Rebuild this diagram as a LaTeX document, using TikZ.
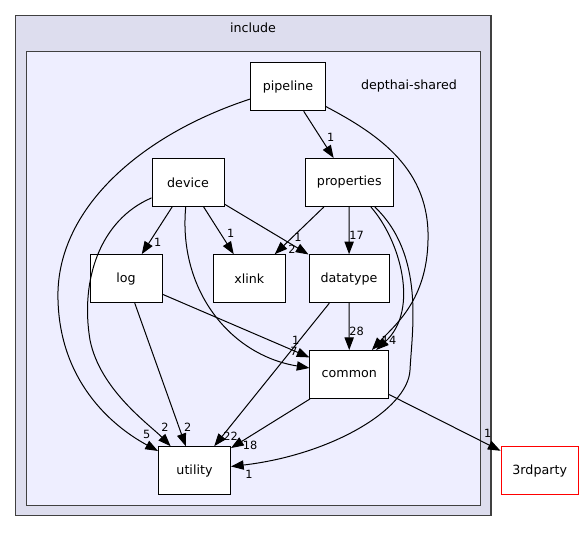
\documentclass[tikz,border=0pt]{standalone}
\usepackage{fontspec}
\setmainfont{DejaVu Sans}
\usetikzlibrary{arrows.meta}
\definecolor{outerfill}{HTML}{DDDDEE}
\definecolor{innerfill}{HTML}{EEEEFF}
\definecolor{clusterline}{HTML}{404040}
\begin{document}
\begin{tikzpicture}[x=0.75pt, y=-0.75pt,
  dirbox/.style={draw=black, fill=white, line width=0.75pt, minimum height=36pt, inner sep=0pt, font=\fontsize{9.5}{11}\selectfont},
  extbox/.style={dirbox, draw=red},
  dep/.style={line width=0.75pt, -{Triangle[length=9.5pt, width=7pt]}},
  cnt/.style={font=\fontsize{8.5}{10}\selectfont, inner sep=0pt}]
\useasboundingbox (0,0) rectangle (584,532);
% clusters
\filldraw[fill=outerfill, draw=clusterline, line width=1.1pt] (15.7,15.7) rectangle (491,515.7);
\filldraw[fill=innerfill, draw=clusterline, line width=1.1pt] (26.7,51.7) rectangle (480.3,505.3);
\node[font=\fontsize{9.5}{11}\selectfont] (include) at (253,28) {include};
\node[font=\fontsize{9.5}{11}\selectfont] (shared) at (409,86) {depthai-shared};
% directories
\node[dirbox, minimum width=56pt] (pipeline) at (288,86.7) {pipeline};
\node[dirbox, minimum width=54pt] (device) at (188,182.3) {device};
\node[dirbox, minimum width=66pt] (properties) at (349.3,182.5) {properties};
\node[dirbox, minimum width=54pt] (log) at (126,278.6) {log};
\node[dirbox, minimum width=54pt] (xlink) at (249.3,278.7) {xlink};
\node[dirbox, minimum width=60pt] (datatype) at (349,278.7) {datatype};
\node[dirbox, minimum width=59pt] (common) at (349.3,374.5) {common};
\node[dirbox, minimum width=54pt] (utility) at (194.5,470.7) {utility};
\node[extbox, minimum width=58pt] (thirdparty) at (539.7,470.5) {3rdparty};
% dependencies
\draw[dep] (pipeline) -- (properties);
\draw[dep] (pipeline) .. controls (140,135) and (55,210) .. (58,300) .. controls (60,380) and (110,425) .. (utility);
\draw[dep] (pipeline) .. controls (380,135) and (430,170) .. (428,240) .. controls (427,300) and (395,325) .. (common);
\draw[dep] (properties) -- (xlink);
\draw[dep] (properties) -- (datatype);
\draw[dep] (properties) .. controls (400,240) and (420,310) .. (common);
\draw[dep] (properties) .. controls (425,255) and (412,330) .. (410,370) .. controls (408,410) and (330,455) .. (utility);
\draw[dep] (device) -- (log);
\draw[dep] (device) -- (xlink);
\draw[dep] (device) -- (datatype);
\draw[dep] (device) .. controls (178,290) and (230,355) .. (common);
\draw[dep] (device) .. controls (100,220) and (80,280) .. (90,340) .. controls (100,390) and (150,425) .. (utility);
\draw[dep] (log) -- (common);
\draw[dep] (log) -- (utility);
\draw[dep] (datatype) -- (common);
\draw[dep] (datatype) -- (utility);
\draw[dep] (common) -- (utility);
\draw[dep] (common) -- (thirdparty);
% counts
\node[cnt] (n1) at (330.7,137.7) {1};
\node[cnt] (n2) at (146.7,434.7) {5};
\node[cnt] (n3) at (392.7,340.7) {4};
\node[cnt] (n4) at (385.3,340.7) {1};
\node[cnt] (n5) at (292,249) {2};
\node[cnt] (n6) at (356.7,235.7) {17};
\node[cnt] (n7) at (249,474) {1};
\node[cnt] (n8) at (157.7,242.7) {1};
\node[cnt] (n9) at (230.7,233.3) {1};
\node[cnt] (n10) at (298,237) {1};
\node[cnt] (n11) at (294,351) {7};
\node[cnt] (n12) at (165,427) {2};
\node[cnt] (n13) at (295.7,340) {1};
\node[cnt] (n14) at (187.7,427) {2};
\node[cnt] (n15) at (356.7,331.5) {28};
\node[cnt] (n16) at (230.7,436.7) {22};
\node[cnt] (n17) at (250,445) {18};
\node[cnt] (n18) at (487.7,433.7) {1};
\end{tikzpicture}
\end{document}
